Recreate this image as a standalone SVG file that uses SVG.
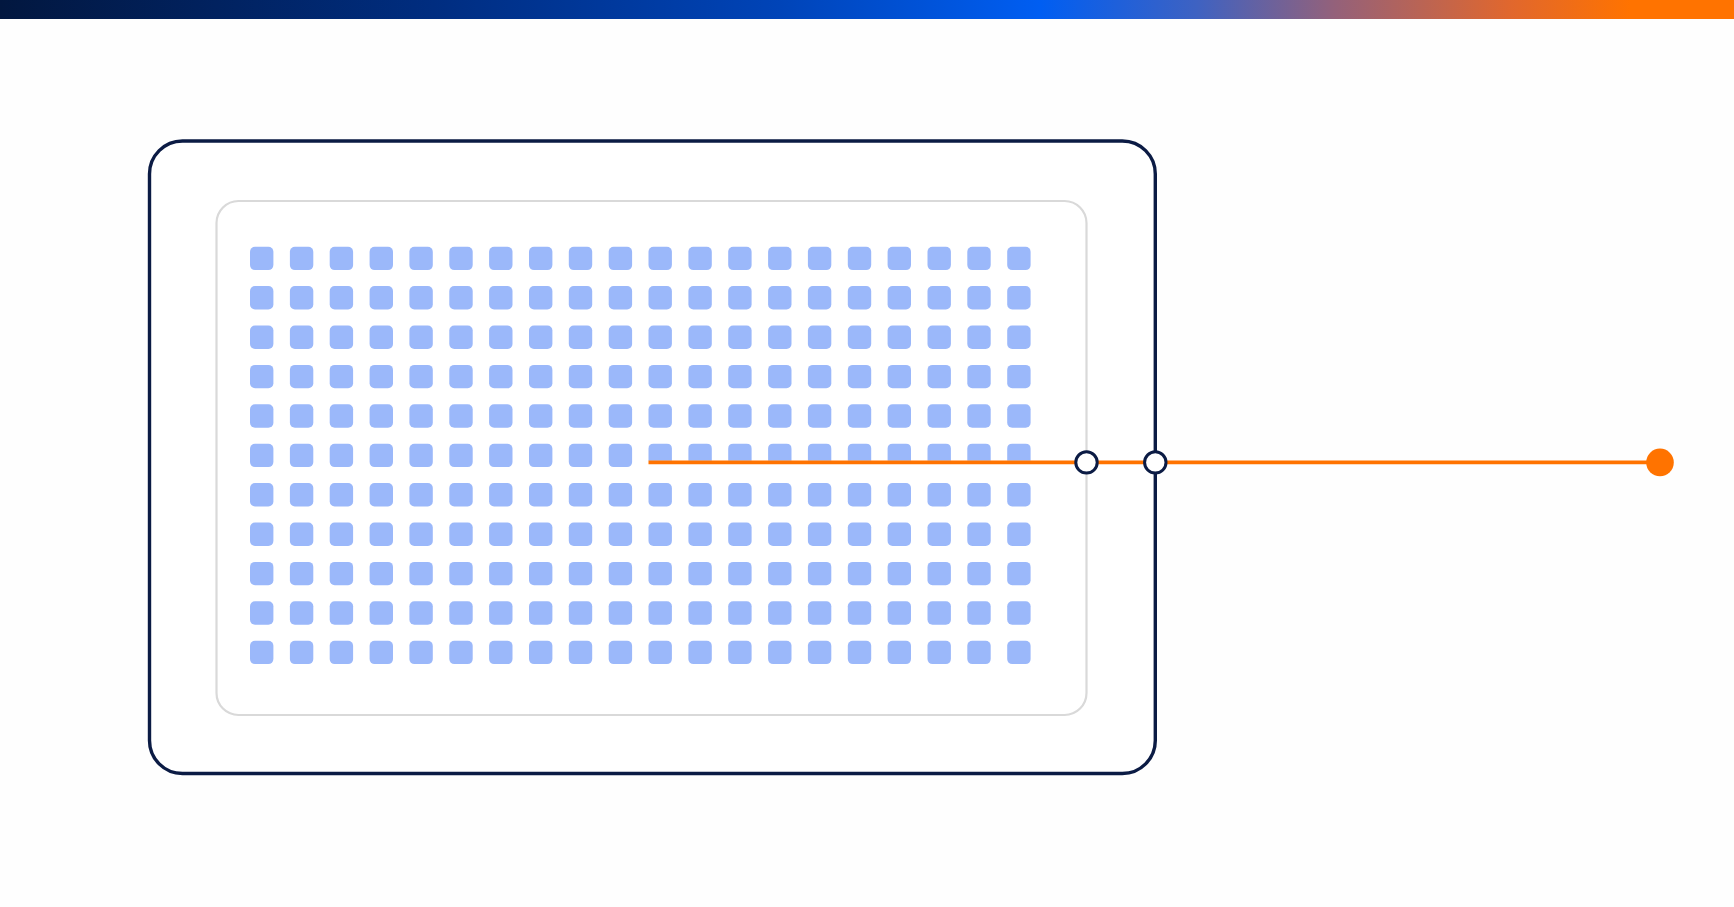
<svg xmlns="http://www.w3.org/2000/svg" xmlns:xlink="http://www.w3.org/1999/xlink" width="1734" height="907" viewBox="0 0 1734 907">
  <style>
    .frame { fill: #ffffff; stroke: #0b1b44; stroke-width: 3.4; }
    .panel { fill: #ffffff; stroke: #d9d9d9; stroke-width: 2.2; }
    .port { fill: #ffffff; stroke: #0b1b44; stroke-width: 3; }
    .wire { fill: none; stroke: #ff7300; stroke-width: 3.8; }
    .end { fill: #ff7300; }
  </style>
  <defs>
    <linearGradient id="bar" x1="0" y1="0" x2="1" y2="0">
      <stop offset="0" stop-color="#02173f"/>
      <stop offset="0.25" stop-color="#002d80"/>
      <stop offset="0.45" stop-color="#0044b8"/>
      <stop offset="0.6" stop-color="#005ef2"/>
      <stop offset="0.69" stop-color="#3e62c2"/>
      <stop offset="0.77" stop-color="#94617a"/>
      <stop offset="0.87" stop-color="#e0672e"/>
      <stop offset="0.94" stop-color="#ff7300"/>
      <stop offset="1" stop-color="#ff7300"/>
    </linearGradient>
    <rect id="sq" width="23.4" height="23.4" rx="5" fill="#9bb8fa"/>
    <path id="sqh" d="M0,17 V5 Q0,0 5,0 H18.4 Q23.4,0 23.4,5 V17 Z" fill="#9bb8fa"/>
  </defs>
  <rect width="1734" height="907" fill="#fefefe"/>
  <rect id="topbar" x="0" y="0" width="1734" height="19" fill="url(#bar)"/>

  <g id="outer-frame">
    <rect class="frame" x="149.5" y="141" width="1005.8" height="632.5" rx="33"/>
  </g>
  <g id="inner-panel">
    <rect class="panel" x="216.5" y="201" width="870" height="514" rx="22"/>
  </g>

  <g id="grid">
    <g transform="translate(0,246.7)">
      <use href="#sq" x="250"/><use href="#sq" x="289.9"/><use href="#sq" x="329.7"/><use href="#sq" x="369.6"/><use href="#sq" x="409.4"/><use href="#sq" x="449.3"/><use href="#sq" x="489.1"/><use href="#sq" x="529"/><use href="#sq" x="568.8"/><use href="#sq" x="608.7"/><use href="#sq" x="648.5"/><use href="#sq" x="688.4"/><use href="#sq" x="728.2"/><use href="#sq" x="768.1"/><use href="#sq" x="807.9"/><use href="#sq" x="847.8"/><use href="#sq" x="887.6"/><use href="#sq" x="927.5"/><use href="#sq" x="967.3"/><use href="#sq" x="1007.2"/>
    </g>
    <g transform="translate(0,286.1)">
      <use href="#sq" x="250"/><use href="#sq" x="289.9"/><use href="#sq" x="329.7"/><use href="#sq" x="369.6"/><use href="#sq" x="409.4"/><use href="#sq" x="449.3"/><use href="#sq" x="489.1"/><use href="#sq" x="529"/><use href="#sq" x="568.8"/><use href="#sq" x="608.7"/><use href="#sq" x="648.5"/><use href="#sq" x="688.4"/><use href="#sq" x="728.2"/><use href="#sq" x="768.1"/><use href="#sq" x="807.9"/><use href="#sq" x="847.8"/><use href="#sq" x="887.6"/><use href="#sq" x="927.5"/><use href="#sq" x="967.3"/><use href="#sq" x="1007.2"/>
    </g>
    <g transform="translate(0,325.5)">
      <use href="#sq" x="250"/><use href="#sq" x="289.9"/><use href="#sq" x="329.7"/><use href="#sq" x="369.6"/><use href="#sq" x="409.4"/><use href="#sq" x="449.3"/><use href="#sq" x="489.1"/><use href="#sq" x="529"/><use href="#sq" x="568.8"/><use href="#sq" x="608.7"/><use href="#sq" x="648.5"/><use href="#sq" x="688.4"/><use href="#sq" x="728.2"/><use href="#sq" x="768.1"/><use href="#sq" x="807.9"/><use href="#sq" x="847.8"/><use href="#sq" x="887.6"/><use href="#sq" x="927.5"/><use href="#sq" x="967.3"/><use href="#sq" x="1007.2"/>
    </g>
    <g transform="translate(0,364.9)">
      <use href="#sq" x="250"/><use href="#sq" x="289.9"/><use href="#sq" x="329.7"/><use href="#sq" x="369.6"/><use href="#sq" x="409.4"/><use href="#sq" x="449.3"/><use href="#sq" x="489.1"/><use href="#sq" x="529"/><use href="#sq" x="568.8"/><use href="#sq" x="608.7"/><use href="#sq" x="648.5"/><use href="#sq" x="688.4"/><use href="#sq" x="728.2"/><use href="#sq" x="768.1"/><use href="#sq" x="807.9"/><use href="#sq" x="847.8"/><use href="#sq" x="887.6"/><use href="#sq" x="927.5"/><use href="#sq" x="967.3"/><use href="#sq" x="1007.2"/>
    </g>
    <g transform="translate(0,404.3)">
      <use href="#sq" x="250"/><use href="#sq" x="289.9"/><use href="#sq" x="329.7"/><use href="#sq" x="369.6"/><use href="#sq" x="409.4"/><use href="#sq" x="449.3"/><use href="#sq" x="489.1"/><use href="#sq" x="529"/><use href="#sq" x="568.8"/><use href="#sq" x="608.7"/><use href="#sq" x="648.5"/><use href="#sq" x="688.4"/><use href="#sq" x="728.2"/><use href="#sq" x="768.1"/><use href="#sq" x="807.9"/><use href="#sq" x="847.8"/><use href="#sq" x="887.6"/><use href="#sq" x="927.5"/><use href="#sq" x="967.3"/><use href="#sq" x="1007.2"/>
    </g>
    <g transform="translate(0,443.7)">
      <use href="#sq" x="250"/><use href="#sq" x="289.9"/><use href="#sq" x="329.7"/><use href="#sq" x="369.6"/><use href="#sq" x="409.4"/><use href="#sq" x="449.3"/><use href="#sq" x="489.1"/><use href="#sq" x="529"/><use href="#sq" x="568.8"/><use href="#sq" x="608.7"/><use href="#sqh" x="648.5"/><use href="#sqh" x="688.4"/><use href="#sqh" x="728.2"/><use href="#sqh" x="768.1"/><use href="#sqh" x="807.9"/><use href="#sqh" x="847.8"/><use href="#sqh" x="887.6"/><use href="#sqh" x="927.5"/><use href="#sqh" x="967.3"/><use href="#sqh" x="1007.2"/>
    </g>
    <g transform="translate(0,483.1)">
      <use href="#sq" x="250"/><use href="#sq" x="289.9"/><use href="#sq" x="329.7"/><use href="#sq" x="369.6"/><use href="#sq" x="409.4"/><use href="#sq" x="449.3"/><use href="#sq" x="489.1"/><use href="#sq" x="529"/><use href="#sq" x="568.8"/><use href="#sq" x="608.7"/><use href="#sq" x="648.5"/><use href="#sq" x="688.4"/><use href="#sq" x="728.2"/><use href="#sq" x="768.1"/><use href="#sq" x="807.9"/><use href="#sq" x="847.8"/><use href="#sq" x="887.6"/><use href="#sq" x="927.5"/><use href="#sq" x="967.3"/><use href="#sq" x="1007.2"/>
    </g>
    <g transform="translate(0,522.5)">
      <use href="#sq" x="250"/><use href="#sq" x="289.9"/><use href="#sq" x="329.7"/><use href="#sq" x="369.6"/><use href="#sq" x="409.4"/><use href="#sq" x="449.3"/><use href="#sq" x="489.1"/><use href="#sq" x="529"/><use href="#sq" x="568.8"/><use href="#sq" x="608.7"/><use href="#sq" x="648.5"/><use href="#sq" x="688.4"/><use href="#sq" x="728.2"/><use href="#sq" x="768.1"/><use href="#sq" x="807.9"/><use href="#sq" x="847.8"/><use href="#sq" x="887.6"/><use href="#sq" x="927.5"/><use href="#sq" x="967.3"/><use href="#sq" x="1007.2"/>
    </g>
    <g transform="translate(0,561.9)">
      <use href="#sq" x="250"/><use href="#sq" x="289.9"/><use href="#sq" x="329.7"/><use href="#sq" x="369.6"/><use href="#sq" x="409.4"/><use href="#sq" x="449.3"/><use href="#sq" x="489.1"/><use href="#sq" x="529"/><use href="#sq" x="568.8"/><use href="#sq" x="608.7"/><use href="#sq" x="648.5"/><use href="#sq" x="688.4"/><use href="#sq" x="728.2"/><use href="#sq" x="768.1"/><use href="#sq" x="807.9"/><use href="#sq" x="847.8"/><use href="#sq" x="887.6"/><use href="#sq" x="927.5"/><use href="#sq" x="967.3"/><use href="#sq" x="1007.2"/>
    </g>
    <g transform="translate(0,601.3)">
      <use href="#sq" x="250"/><use href="#sq" x="289.9"/><use href="#sq" x="329.7"/><use href="#sq" x="369.6"/><use href="#sq" x="409.4"/><use href="#sq" x="449.3"/><use href="#sq" x="489.1"/><use href="#sq" x="529"/><use href="#sq" x="568.8"/><use href="#sq" x="608.7"/><use href="#sq" x="648.5"/><use href="#sq" x="688.4"/><use href="#sq" x="728.2"/><use href="#sq" x="768.1"/><use href="#sq" x="807.9"/><use href="#sq" x="847.8"/><use href="#sq" x="887.6"/><use href="#sq" x="927.5"/><use href="#sq" x="967.3"/><use href="#sq" x="1007.2"/>
    </g>
    <g transform="translate(0,640.7)">
      <use href="#sq" x="250"/><use href="#sq" x="289.9"/><use href="#sq" x="329.7"/><use href="#sq" x="369.6"/><use href="#sq" x="409.4"/><use href="#sq" x="449.3"/><use href="#sq" x="489.1"/><use href="#sq" x="529"/><use href="#sq" x="568.8"/><use href="#sq" x="608.7"/><use href="#sq" x="648.5"/><use href="#sq" x="688.4"/><use href="#sq" x="728.2"/><use href="#sq" x="768.1"/><use href="#sq" x="807.9"/><use href="#sq" x="847.8"/><use href="#sq" x="887.6"/><use href="#sq" x="927.5"/><use href="#sq" x="967.3"/><use href="#sq" x="1007.2"/>
    </g>
  </g>

  <g id="connectors">
    <line class="wire" x1="648.5" y1="462.4" x2="1660" y2="462.4"/>
  </g>

  <g id="port-inner">
    <circle class="port" cx="1086.5" cy="462.4" r="10.7"/>
  </g>
  <g id="port-outer">
    <circle class="port" cx="1155.3" cy="462.4" r="10.7"/>
  </g>
  <g id="endpoint">
    <circle class="end" cx="1660" cy="462.4" r="13.8"/>
  </g>
</svg>
